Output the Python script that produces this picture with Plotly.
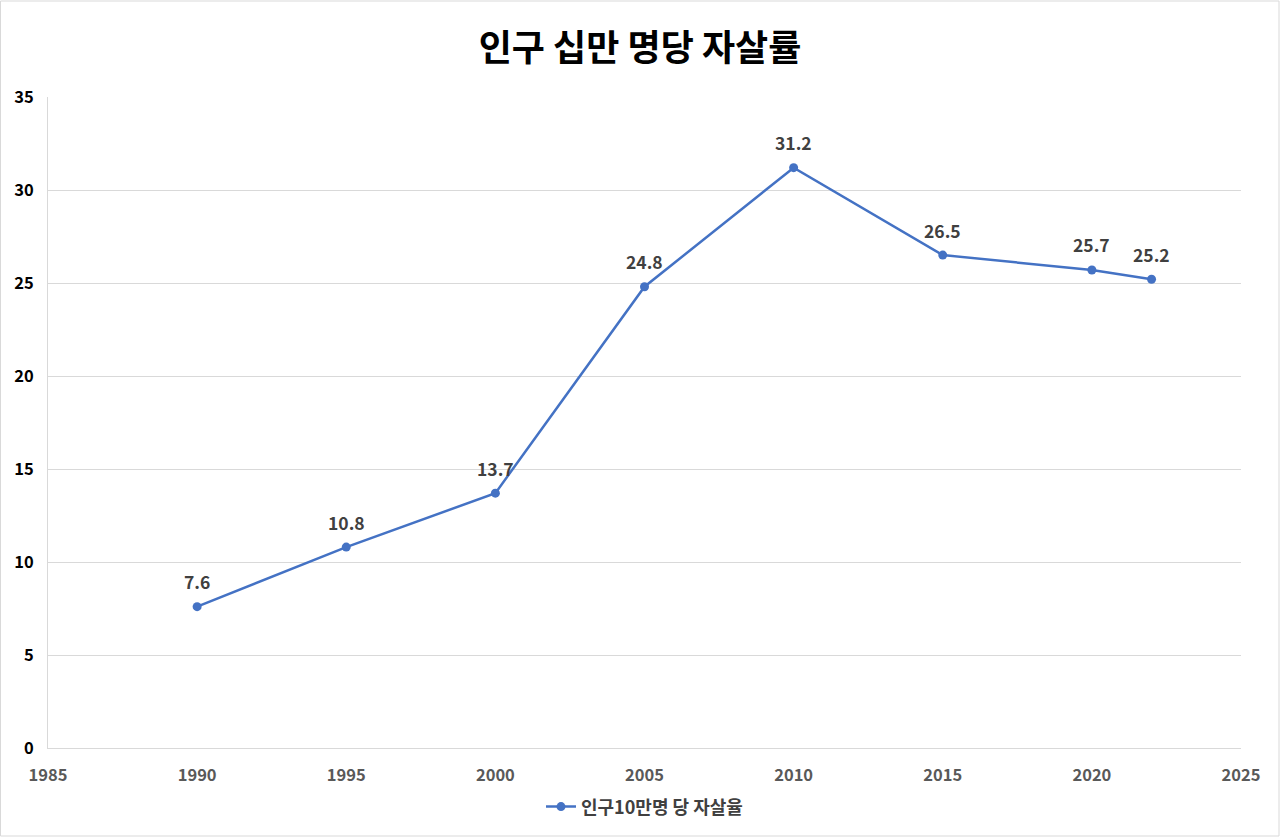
import plotly.graph_objects as go

years = [1990, 1995, 2000, 2005, 2010, 2015, 2020, 2022]
rates = [7.6, 10.8, 13.7, 24.8, 31.2, 26.5, 25.7, 25.2]
labels = ["7.6", "10.8", "13.7", "24.8", "31.2", "26.5", "25.7", "25.2"]
series_name = "인구10만명 당 자살율"
title_text = "인구 십만 명당 자살률"
x_ticks = [1985, 1990, 1995, 2000, 2005, 2010, 2015, 2020, 2025]
y_ticks = [0, 5, 10, 15, 20, 25, 30, 35]

FONT = "Noto Sans CJK KR"

fig = go.Figure()
fig.add_trace(go.Scatter(
    x=years, y=rates, mode="lines+markers", name=series_name,
    line=dict(color="#4472C4", width=2.5),
    marker=dict(color="#4472C4", size=9),
    cliponaxis=False,
))

for xv, yv, t in zip(years, rates, labels):
    fig.add_annotation(x=xv, y=yv, text=f"<b>{t}</b>", showarrow=False,
                       yshift=25, xanchor="center", yanchor="middle",
                       font=dict(family=FONT, size=17.5, color="#404040"))

fig.update_layout(
    width=1280, height=837,
    paper_bgcolor="white", plot_bgcolor="white",
    margin=dict(l=48, r=39, t=97, b=89),
    title=dict(text=f"<b>{title_text}</b>", x=0.5, xanchor="center", y=0.942, yanchor="middle",
               font=dict(family=FONT, size=36, color="black")),
    showlegend=True,
    legend=dict(orientation="h", x=0.5, xanchor="center", y=-0.062, yanchor="top",
                font=dict(family=FONT, size=18, color="#404040", weight="bold")),
    xaxis=dict(range=[1985, 2025], tickvals=x_ticks, showgrid=False,
               showline=True, linecolor="#D9D9D9", linewidth=1, zeroline=False,
               ticks="", ticklabelstandoff=12,
               tickfont=dict(family=FONT, size=16.5, color="#595959", weight="bold")),
    yaxis=dict(range=[0, 35], tickvals=y_ticks, showgrid=True, gridcolor="#D9D9D9",
               gridwidth=1, showline=True, linecolor="#D9D9D9", linewidth=1,
               zeroline=False, ticks="", ticklabelstandoff=10,
               tickfont=dict(family=FONT, size=16.5, color="black", weight="bold")),
    shapes=[dict(type="rect", xref="paper", yref="paper", x0=-47.5/1193, x1=1+38/1193,
                 y0=-88/651, y1=1+96/651, line=dict(color="#D9D9D9", width=1))],
)

fig.write_html("out.html", config={"displayModeBar": False},
               post_script="document.body.style.margin='0';document.body.style.overflow='hidden';")
